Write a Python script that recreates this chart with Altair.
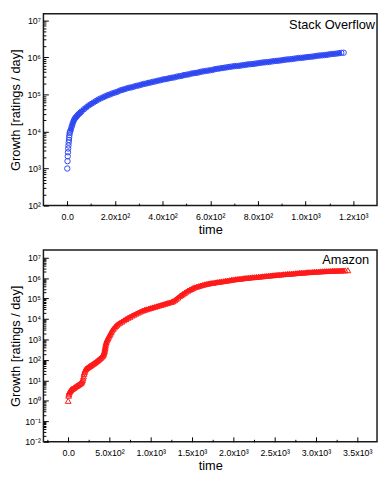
import json
import altair as alt
import pandas as pd

FONT = "Liberation Sans"
BLUE = "#2f48f2"
RED = "#ff1a1a"
W = 339
H = 195

# ---------------- Stack Overflow (time in days, growth in ratings/day) ----------------
so_time = [0, 1, 2, 3, 4, 5, 6, 7, 8, 9, 10,
           12, 15, 18, 21, 24, 28, 32, 36, 40, 45, 50, 55, 60,
           70, 80, 90, 100, 110, 120, 130, 140, 150, 160,
           170, 180, 190, 200, 210, 220, 230, 240, 250, 260,
           270, 280, 290, 300, 310, 320, 330, 340, 350, 360,
           370, 380, 390, 400, 410, 420, 430, 440, 450, 460,
           470, 480, 490, 500, 510, 520, 530, 540, 550, 560,
           570, 580, 590, 600, 610, 620, 630, 640, 650, 660,
           670, 680, 690, 700, 710, 720, 730, 740, 750, 760,
           770, 780, 790, 800, 810, 820, 830, 840, 850, 860,
           870, 880, 890, 900, 910, 920, 930, 940, 950, 960,
           970, 980, 990, 1000, 1010, 1020, 1030, 1040, 1050, 1060,
           1070, 1080, 1090, 1100, 1110, 1120, 1130, 1140, 1150, 1160]
so_growth = [1.00e3, 1.58e3, 2.14e3, 2.75e3, 3.47e3, 4.17e3, 5.01e3, 5.89e3, 6.92e3, 7.94e3, 9.12e3,
             1.00e4, 1.12e4, 1.32e4, 1.51e4, 1.74e4, 2.00e4, 2.24e4, 2.40e4, 2.57e4, 2.82e4, 3.02e4, 3.24e4, 3.47e4,
             3.98e4, 4.47e4, 5.01e4, 5.50e4, 6.03e4, 6.61e4, 7.24e4, 7.76e4, 8.32e4, 8.91e4,
             9.55e4, 1.00e5, 1.07e5, 1.12e5, 1.17e5, 1.26e5, 1.32e5, 1.38e5, 1.45e5, 1.51e5,
             1.55e5, 1.62e5, 1.70e5, 1.74e5, 1.82e5, 1.91e5, 1.95e5, 2.04e5, 2.09e5, 2.19e5,
             2.24e5, 2.34e5, 2.40e5, 2.51e5, 2.57e5, 2.63e5, 2.75e5, 2.82e5, 2.88e5, 3.02e5,
             3.09e5, 3.16e5, 3.31e5, 3.39e5, 3.47e5, 3.63e5, 3.72e5, 3.80e5, 3.89e5, 4.07e5,
             4.17e5, 4.27e5, 4.37e5, 4.47e5, 4.57e5, 4.79e5, 4.90e5, 5.01e5, 5.13e5, 5.25e5,
             5.37e5, 5.50e5, 5.62e5, 5.75e5, 5.82e5, 5.89e5, 6.03e5, 6.17e5, 6.31e5, 6.46e5,
             6.53e5, 6.61e5, 6.76e5, 6.92e5, 7.08e5, 7.24e5, 7.33e5, 7.41e5, 7.59e5, 7.76e5,
             7.94e5, 8.04e5, 8.13e5, 8.32e5, 8.51e5, 8.71e5, 8.80e5, 8.91e5, 9.12e5, 9.33e5,
             9.55e5, 9.66e5, 9.77e5, 1.00e6, 1.02e6, 1.03e6, 1.05e6, 1.07e6, 1.10e6, 1.12e6,
             1.13e6, 1.15e6, 1.17e6, 1.20e6, 1.23e6, 1.24e6, 1.26e6, 1.29e6, 1.32e6, 1.33e6]

# ---------------- Amazon ----------------
amz_time = [0, 5, 8, 12, 16, 20, 25, 30, 38, 45,
            55, 65, 75, 85, 96, 105, 115, 125, 135, 145,
            153, 160, 167, 174, 180, 186, 192, 197, 202, 208,
            215, 225, 235, 245, 255, 265, 275, 288, 300, 312,
            324, 336, 348, 360, 372, 384, 396, 408, 418, 425,
            430, 435, 439, 443, 446, 449, 452, 456, 461, 467,
            474, 482, 491, 500, 510, 520, 532, 545, 560, 575,
            592, 610, 630, 652, 675, 700, 725, 750, 775, 800,
            825, 850, 875, 900, 925, 950, 975, 1000, 1025, 1050,
            1075, 1100, 1125, 1150, 1175, 1200, 1225, 1250, 1270, 1290,
            1310, 1330, 1350, 1370, 1390, 1410, 1430, 1450, 1470, 1490,
            1510, 1530, 1555, 1580, 1605, 1630, 1655, 1680, 1705, 1730,
            1755, 1780, 1805, 1830, 1855, 1880, 1905, 1930, 1955, 1980,
            2005, 2030, 2055, 2080, 2105, 2130, 2155, 2180, 2205, 2230,
            2255, 2280, 2305, 2330, 2355, 2380, 2405, 2430, 2455, 2480,
            2505, 2530, 2555, 2580, 2605, 2630, 2655, 2680, 2705, 2730,
            2755, 2780, 2805, 2830, 2855, 2880, 2905, 2930, 2955, 2980,
            3005, 3030, 3055, 3080, 3105, 3130, 3155, 3180, 3205, 3230,
            3255, 3280, 3305, 3330, 3355, 3387]
amz_growth = [1.00, 1.78, 2.09, 2.51, 2.82, 3.02, 3.16, 3.39, 3.72, 3.80,
              3.98, 4.27, 4.57, 4.90, 5.25, 5.50, 5.89, 6.17, 6.61, 7.08,
              7.41, 7.94, 8.91, 10.5, 12.6, 15.8, 20.9, 25.1, 29.5, 33.9,
              37.2, 39.8, 42.7, 45.7, 49.0, 51.3, 55.0, 58.9, 64.6, 69.2,
              74.1, 81.3, 89.1, 97.7, 107, 117, 129, 145, 162, 182,
              204, 234, 269, 316, 372, 437, 525, 631, 759, 891,
              1020, 1170, 1380, 1620, 1910, 2290, 2750, 3310, 3890, 4570,
              5250, 6030, 6760, 7590, 8710, 1.00e4, 1.15e4, 1.29e4, 1.48e4, 1.66e4,
              1.86e4, 2.09e4, 2.34e4, 2.57e4, 2.82e4, 3.02e4, 3.24e4, 3.47e4, 3.72e4, 3.98e4,
              4.27e4, 4.57e4, 4.90e4, 5.25e4, 5.62e4, 6.03e4, 6.46e4, 6.92e4, 7.41e4, 8.32e4,
              9.77e4, 1.12e5, 1.32e5, 1.48e5, 1.70e5, 1.91e5, 2.19e5, 2.45e5, 2.69e5, 2.95e5,
              3.24e5, 3.55e5, 3.80e5, 4.07e5, 4.37e5, 4.68e5, 5.01e5, 5.25e5, 5.50e5, 5.75e5,
              5.89e5, 6.17e5, 6.46e5, 6.61e5, 6.92e5, 7.08e5, 7.41e5, 7.59e5, 7.94e5, 8.32e5,
              8.51e5, 8.91e5, 9.12e5, 9.33e5, 9.55e5, 1.00e6, 1.02e6, 1.05e6, 1.07e6, 1.10e6,
              1.12e6, 1.15e6, 1.17e6, 1.20e6, 1.23e6, 1.26e6, 1.29e6, 1.32e6, 1.35e6, 1.38e6,
              1.41e6, 1.45e6, 1.48e6, 1.51e6, 1.55e6, 1.58e6, 1.62e6, 1.64e6, 1.66e6, 1.70e6,
              1.74e6, 1.78e6, 1.82e6, 1.84e6, 1.86e6, 1.91e6, 1.95e6, 1.97e6, 2.00e6, 2.04e6,
              2.06e6, 2.09e6, 2.14e6, 2.16e6, 2.19e6, 2.21e6, 2.24e6, 2.26e6, 2.29e6, 2.31e6,
              2.32e6, 2.34e6, 2.36e6, 2.37e6, 2.40e6, 2.42e6]

# ---------------- axis ticks and labels ----------------
so_x_ticks = [0, 100, 200, 300, 400, 500, 600, 700, 800, 900, 1000, 1100, 1200]
so_x_major = [0, 200, 400, 600, 800, 1000, 1200]
so_x_labels = ["0.0", "2.0x10²", "4.0x10²", "6.0x10²", "8.0x10²", "1.0x10³", "1.2x10³"]

amz_x_ticks = [-250, 0, 250, 500, 750, 1000, 1250, 1500, 1750, 2000, 2250, 2500, 2750, 3000, 3250, 3500]
amz_x_major = [0, 500, 1000, 1500, 2000, 2500, 3000, 3500]
amz_x_labels = ["0.0", "5.0x10²", "1.0x10³", "1.5x10³", "2.0x10³", "2.5x10³", "3.0x10³", "3.5x10³"]

so_y_major = [1e2, 1e3, 1e4, 1e5, 1e6, 1e7]
so_y_labels = ["10²", "10³", "10⁴", "10⁵", "10⁶", "10⁷"]
amz_y_major = [1e-2, 1e-1, 1e0, 1e1, 1e2, 1e3, 1e4, 1e5, 1e6, 1e7]
amz_y_labels = ["10⁻²", "10⁻¹", "10⁰", "10¹", "10²", "10³", "10⁴", "10⁵", "10⁶", "10⁷"]
minor_mult = [2, 3, 4, 5, 6, 7, 8, 9]


def log_ticks(majors):
    vals = list(majors)
    for m in majors[:-1]:
        vals += [k * m for k in minor_mult]
    return sorted(vals)


def label_expr(values, labels):
    v = json.dumps(values)
    l = json.dumps(labels, ensure_ascii=False)
    return f"indexof({v}, datum.value) < 0 ? '' : {l}[indexof({v}, datum.value)]"


def tick_expr(majors):
    v = json.dumps(majors)
    return f"indexof({v}, datum.value) < 0 ? -2.5 : -5"


def x_axis(ticks, majors, labels):
    return alt.Axis(values=ticks, labelExpr=label_expr(majors, labels),
                    tickSize=alt.ExprRef(tick_expr(majors)), tickColor="black", tickWidth=1,
                    labelPadding=12, labelFont=FONT, labelFontSize=9, labelColor="black",
                    labelOverlap=False, labelFlush=False, domain=False, grid=False,
                    title="time", titleFont=FONT, titleFontSize=13, titleFontWeight="normal",
                    titleColor="black", titleBaseline="alphabetic", titleY=28)


def y_axis(majors, labels):
    return alt.Axis(values=log_ticks(majors), labelExpr=label_expr(majors, labels),
                    tickSize=alt.ExprRef(tick_expr(majors)), tickColor="black", tickWidth=1,
                    labelPadding=8, labelFont=FONT, labelFontSize=9, labelColor="black",
                    labelOverlap=False, labelFlush=False, domain=False, grid=False,
                    title="Growth [ratings / day]", titleFont=FONT, titleFontSize=13,
                    titleFontWeight="normal", titleColor="black", titleX=-21.5,
                    titleBaseline="bottom")


def panel(df, color, shape, size, x_dom, y_dom, xt, xm, xl, ym, yl, band_from, band_to,
          name, tx, ty):
    base = alt.Chart(df).encode(
        x=alt.X("time:Q", scale=alt.Scale(domain=x_dom, nice=False, zero=False),
                axis=x_axis(xt, xm, xl)),
        y=alt.Y("growth:Q", scale=alt.Scale(type="log", domain=y_dom, nice=False),
                axis=y_axis(ym, yl)),
    )
    band = base.transform_filter(
        f"datum.time >= {band_from} && datum.time < {band_to}").mark_line(
        color=color, strokeWidth=4, strokeJoin="round", strokeCap="butt")
    pts = base.mark_point(shape=shape, filled=False, size=size, strokeWidth=1,
                          color=color, opacity=1)
    txt = alt.Chart(pd.DataFrame({"name": [name]})).mark_text(
        align="right", baseline="alphabetic", font=FONT, fontSize=13, color="black").encode(
        text="name:N", x=alt.value(tx), y=alt.value(ty))
    return alt.layer(band, pts, txt).properties(width=W, height=H)


so_df = pd.DataFrame({"time": so_time, "growth": so_growth})
amz_df = pd.DataFrame({"time": amz_time, "growth": amz_growth})

top = panel(so_df, BLUE, "circle", 30, [-100, 1300], [100, 1.5e7],
            so_x_ticks, so_x_major, so_x_labels, so_y_major, so_y_labels,
            12, 1155, "Stack Overflow", W - 2, 16)
bottom = panel(amz_df, RED, "triangle-up", 34, [-300, 3740], [1e-2, 2.4e7],
               amz_x_ticks, amz_x_major, amz_x_labels, amz_y_major, amz_y_labels,
               200, 3380, "Amazon", W - 8, 14)

chart = alt.vconcat(top, bottom, spacing=12).properties(
    padding={"left": 0, "top": 1, "right": 1, "bottom": 1}, background="white"
).configure_view(stroke="#1a1a1a", strokeWidth=1.5)

chart.save("out.html", embed_options={"renderer": "svg", "actions": False})
